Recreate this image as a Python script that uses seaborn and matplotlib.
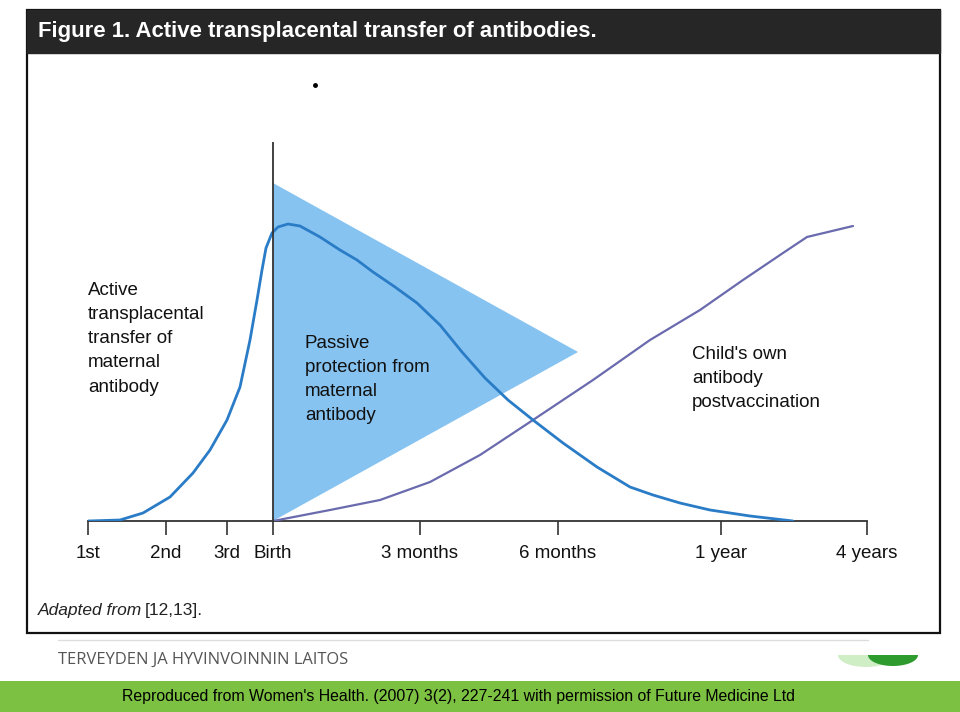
import numpy as np
import pandas as pd
import matplotlib
matplotlib.use("Agg")
import matplotlib.pyplot as plt
import seaborn as sns
from matplotlib.patches import Rectangle, Polygon

sns.set_theme(style="white")
plt.rcParams['font.family'] = ['Liberation Sans', 'DejaVu Sans']

# ---- data ----
tick_labels = ["1st", "2nd", "3rd", "Birth", "3 months", "6 months", "1 year", "4 years"]
tick_pos = [0, 78, 139, 185, 332, 470, 633, 779]

maternal_x = [0, 32, 55, 82, 105, 122, 139, 152, 162, 169, 174, 178, 184, 190, 200, 212, 232, 252,
              269, 285, 307, 329, 352, 374, 397, 420, 445, 475, 509, 542, 565, 592, 622, 662, 705]
maternal_y = [0, 1, 8, 24, 48, 71, 101, 134, 181, 221, 251, 273, 288, 294, 297, 295, 284, 271,
              261, 249, 234, 218, 196, 169, 143, 121, 101, 78, 54, 34, 26, 18, 11, 5, 0]

child_x = [185, 242, 292, 342, 392, 445, 505, 562, 612, 655, 695, 719, 765]
child_y = [0, 11, 21, 39, 66, 101, 141, 181, 211, 241, 268, 284, 295]

protection_x = [185, 490, 185]
protection_y = [338, 169, 0]

birth_x = 185

title = "Figure 1. Active transplacental transfer of antibodies."
label_active = "Active\ntransplacental\ntransfer of\nmaternal\nantibody"
label_passive = "Passive\nprotection from\nmaternal\nantibody"
label_child = "Child's own\nantibody\npostvaccination"
footer = "Reproduced from Women's Health. (2007) 3(2), 227-241 with permission of Future Medicine Ltd"
org = "TERVEYDEN JA HYVINVOINNIN LAITOS"

W, H = 960, 712
fig = plt.figure(figsize=(W / 100, H / 100), dpi=100)
fig.patch.set_facecolor("white")

# background / decoration axes in pixel coordinates
bg = fig.add_axes([0, 0, 1, 1], zorder=0)
bg.set_xlim(0, W)
bg.set_ylim(H, 0)
bg.axis("off")

bg.add_patch(Rectangle((27, 10), 913, 623, fill=False, edgecolor="#111111", lw=1.6))
bg.add_patch(Rectangle((27, 10), 913, 43, facecolor="#262626", edgecolor="#262626", lw=1.0))
bg.text(38, 32, title, color="white", fontsize=15.9, fontweight="bold", va="center", ha="left")
bg.plot([58, 868], [640, 640], color="#dddddd", lw=1)
bg.text(58, 660, org, color="#555555", fontsize=11.9, va="center", ha="left",
        family=["Open Sans", "DejaVu Sans"])
bg.add_patch(Rectangle((0, 681), W, 31, facecolor="#7cc142", edgecolor="none"))
bg.text(458, 697, footer, color="black", fontsize=11.45, va="center", ha="center")

# logo (two half-ellipses)
t = np.linspace(0, np.pi, 40)
def half_ellipse(cx, cy, rx, ry):
    return np.column_stack([cx + rx * np.cos(t), cy + ry * np.sin(t)])
bg.add_patch(Polygon(half_ellipse(866, 655, 28, 12), closed=True, facecolor="#c4eab8",
                     edgecolor="none", alpha=0.8))
bg.add_patch(Polygon(half_ellipse(893, 655, 25, 11), closed=True, facecolor="#2e9b2e",
                     edgecolor="none"))
bg.plot([315], [85], marker="o", ms=2.5, color="black")
bg.text(38, 610, "Adapted from", fontsize=12.5, fontstyle="italic", va="center", ha="left", color="#222222")
bg.text(145, 610, "[12,13].", fontsize=12.5, va="center", ha="left", color="#222222")

# main chart axes
x0, x1, yb, yt = 88, 867, 521, 142
ax = fig.add_axes([x0 / W, (H - yb) / H, (x1 - x0) / W, (yb - yt) / H], zorder=1)
ax.patch.set_alpha(0)
ax.set_xlim(0, 779)
ax.set_ylim(0, 379)

ax.fill(protection_x, protection_y, color="#86c3f0", lw=0, zorder=1)

df_m = pd.DataFrame({"x": maternal_x, "y": maternal_y})
df_c = pd.DataFrame({"x": child_x, "y": child_y})
sns.lineplot(data=df_c, x="x", y="y", ax=ax, color="#6a6aae", lw=1.6, sort=False, zorder=3)
sns.lineplot(data=df_m, x="x", y="y", ax=ax, color="#2a7cc7", lw=2.0, sort=False, zorder=4)
ax.axvline(birth_x, color="#333333", lw=1.3, zorder=5)

for s in ["top", "right", "left"]:
    ax.spines[s].set_visible(False)
ax.spines["bottom"].set_color("#333333")
ax.spines["bottom"].set_linewidth(1.3)
ax.set_xticks(tick_pos)
ax.set_xticklabels(tick_labels)
ax.set_yticks([])
ax.tick_params(axis="x", direction="out", length=10, width=1.2, color="#333333",
               labelsize=13.5, pad=7, labelcolor="#111111", bottom=True)
ax.set_xlabel("")
ax.set_ylabel("")

# overlay for annotations (above the fill)
ov = fig.add_axes([0, 0, 1, 1], zorder=2)
ov.set_xlim(0, W)
ov.set_ylim(H, 0)
ov.axis("off")
ov.patch.set_alpha(0)
ov.text(88, 282, label_active, fontsize=13.5, va="top", ha="left", color="#111111", linespacing=1.55)
ov.text(305, 335, label_passive, fontsize=13.5, va="top", ha="left", color="#111111", linespacing=1.55)
ov.text(692, 346, label_child, fontsize=13.5, va="top", ha="left", color="#111111", linespacing=1.55)

fig.savefig("out.png", dpi=100, facecolor="white")
